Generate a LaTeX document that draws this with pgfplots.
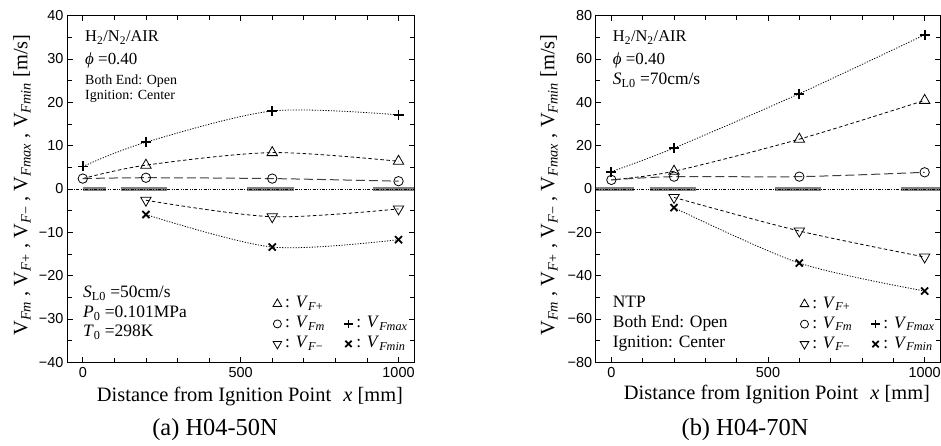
\documentclass[border=0pt]{standalone}
\usepackage{fontspec}
\setmainfont{Liberation Serif}
\newfontfamily\sansf{Liberation Sans}
\usepackage{pgfplots}
\pgfplotsset{compat=1.18}
\newcommand{\Vl}[2]{\hspace{2.5bp}: \textit{V}\textsubscript{\textit{#1}#2}}
\newcommand{\Vy}[2]{V\textsubscript{\textit{#1}#2}}
\pgfplotsset{
  myaxis/.style={
    scale only axis, xmin=-50, xmax=1050,
    xtick={0,500,1000}, xticklabels={0,500,1000},
    minor xtick={100,200,300,400,600,700,800,900},
    tick align=inside, major tick length=5.5bp, minor tick length=4.5bp,
    tick style={line width=0.7bp, black},
    axis line style={line width=0.9bp},
    ticklabel style={font=\sansf\fontsize{14.5}{14.5}\selectfont},
    xticklabel style={yshift=-2bp},
    legend columns=2,
    legend cell align=left,
    legend style={draw=none, fill=none, inner sep=0pt, anchor=north west,
      font=\fontsize{17.5}{17.5}\selectfont, row sep=2bp,
      nodes={inner sep=1bp, text height=12bp, text depth=4bp},
      /tikz/every even column/.append style={column sep=14bp}},
  },
  zl/.style={black, line width=0.6bp, dash pattern=on 3bp off 1.5bp on 0.8bp off 1.5bp on 0.8bp off 1.5bp},
  gs/.style={black!50, line width=3.5bp},
  fmax/.style={black, line width=0.8bp, dash pattern=on 1.2bp off 1.5bp, smooth, mark=+, mark size=5bp, mark options={solid, line width=1.8bp}},
  fmin/.style={black, line width=0.8bp, dash pattern=on 1.2bp off 1.5bp, smooth, mark=x, mark size=5bp, mark options={solid, line width=1.8bp}},
  fp/.style={black, line width=0.8bp, dash pattern=on 3.5bp off 2.5bp, smooth, mark=triangle, mark size=6bp, mark options={solid, fill=white, line width=0.8bp}},
  fn/.style={black, line width=0.8bp, dash pattern=on 3.5bp off 2.5bp, smooth, mark=triangle, mark size=6bp, mark options={solid, rotate=180, fill=white, line width=0.8bp}},
  fm/.style={black!75, line width=1bp, dash pattern=on 9bp off 4bp, smooth, mark=o, mark size=4.7bp, mark options={solid, black, fill=white, line width=0.8bp}},
  lgtri/.style={only marks, mark=triangle, mark size=5bp, mark options={fill=white, line width=0.8bp}},
  lgtrid/.style={only marks, mark=triangle, mark size=5bp, mark options={rotate=180, fill=white, line width=0.8bp}},
  lgcirc/.style={only marks, mark=o, mark size=4bp, mark options={line width=0.8bp}},
  lgplus/.style={only marks, mark=+, mark size=4.3bp, mark options={line width=1.8bp}},
  lgx/.style={only marks, mark=x, mark size=4.5bp, mark options={line width=1.8bp}},
}
\begin{document}
\begin{tikzpicture}[x=1bp,y=1bp]
\useasboundingbox (0,0) rectangle (941,446);
% ---------------- (a) ----------------
\begin{axis}[myaxis, at={(67bp,83.7bp)}, anchor=south west, width=347.3bp, height=346.6bp,
  ymin=-40, ymax=40, ytick={-40,-30,...,40},
  yticklabels={−40,−30,−20,−10,0,10,20,30,40}, minor y tick num=1,
  legend style={at={(axis cs:602,-24.4)}}]
\addplot[zl, forget plot] coordinates {(-50,0) (1050,0)};
\addplot[gs, forget plot] coordinates {(0,0) (73,0)};
\addplot[gs, forget plot] coordinates {(120,0) (267,0)};
\addplot[gs, forget plot] coordinates {(520,0) (668,0)};
\addplot[gs, forget plot] coordinates {(918,0) (1050,0)};
\addplot[zl, forget plot] coordinates {(-50,0) (1050,0)};
\addplot[fmax, forget plot] coordinates {(0,5.2) (200,10.8) (600,18.0) (1000,17.1)};
\addplot[fp, mark indices={2,3,4}, forget plot] coordinates {(0,2.4) (200,5.5) (600,8.4) (1000,6.4)};
\addplot[fm, forget plot] coordinates {(0,2.4) (200,2.6) (600,2.4) (1000,1.8)};
\addplot[fn, forget plot] coordinates {(200,-2.6) (600,-6.4) (1000,-4.6)};
\addplot[fmin, forget plot] coordinates {(200,-5.9) (600,-13.4) (1000,-11.7)};
\addlegendimage{lgtri}\addlegendentry{\Vl{F}{+}}
\addlegendimage{empty legend}\addlegendentry{}
\addlegendimage{lgcirc}\addlegendentry{\Vl{Fm}{}}
\addlegendimage{lgplus}\addlegendentry{\Vl{Fmax}{}}
\addlegendimage{lgtrid}\addlegendentry{\Vl{F}{−}}
\addlegendimage{lgx}\addlegendentry{\Vl{Fmin}{}}
\end{axis}
% ---------------- (b) ----------------
\begin{axis}[myaxis, at={(595.7bp,83.7bp)}, anchor=south west, width=344.6bp, height=346.6bp,
  ymin=-80, ymax=80, ytick={-80,-60,...,80},
  yticklabels={−80,−60,−40,−20,0,20,40,60,80}, minor y tick num=1,
  legend style={at={(axis cs:602,-48.9)}}]
\addplot[zl, forget plot] coordinates {(-50,0) (1050,0)};
\addplot[gs, forget plot] coordinates {(-50,0) (72,0)};
\addplot[gs, forget plot] coordinates {(122,0) (269,0)};
\addplot[gs, forget plot] coordinates {(523,0) (670,0)};
\addplot[gs, forget plot] coordinates {(925,0) (1050,0)};
\addplot[zl, forget plot] coordinates {(-50,0) (1050,0)};
\addplot[fmax, forget plot] coordinates {(0,8.0) (200,18.9) (600,44.0) (1000,71.2)};
\addplot[fp, mark indices={2,3,4}, forget plot] coordinates {(0,4.2) (200,8.2) (600,23.0) (1000,40.9)};
\addplot[fm, forget plot] coordinates {(0,4.2) (200,5.7) (600,5.7) (1000,7.7)};
\addplot[fn, forget plot] coordinates {(200,-3.9) (600,-19.4) (1000,-31.4)};
\addplot[fmin, forget plot] coordinates {(200,-8.6) (600,-34.2) (1000,-47.1)};
\addlegendimage{lgtri}\addlegendentry{\Vl{F}{+}}
\addlegendimage{empty legend}\addlegendentry{}
\addlegendimage{lgcirc}\addlegendentry{\Vl{Fm}{}}
\addlegendimage{lgplus}\addlegendentry{\Vl{Fmax}{}}
\addlegendimage{lgtrid}\addlegendentry{\Vl{F}{−}}
\addlegendimage{lgx}\addlegendentry{\Vl{Fmin}{}}
\end{axis}
% ---------------- annotations (a) ----------------
\begin{scope}[every node/.style={inner sep=0pt, anchor=base west}]
\node[font=\fontsize{16.5}{16.5}\selectfont] at (85,404.3) {H\textsubscript{2}/N\textsubscript{2}/AIR};
\node[font=\fontsize{17}{17}\selectfont] at (85,381) {\textit{ϕ} =0.40};
\node[font=\fontsize{14}{14}\selectfont] at (85,361) {Both End: Open};
\node[font=\fontsize{14}{14}\selectfont] at (85,346) {Ignition: Center};
\node[font=\fontsize{17.5}{17.5}\selectfont] at (83,148) {\textit{S}\textsubscript{L0} =50cm/s};
\node[font=\fontsize{17.5}{17.5}\selectfont] at (83,128) {\textit{P}\textsubscript{0} =0.101MPa};
\node[font=\fontsize{17.5}{17.5}\selectfont] at (83,109) {\textit{T}\textsubscript{0} =298K};
% ---------------- annotations (b) ----------------
\node[font=\fontsize{16.5}{16.5}\selectfont] at (612.7,404.3) {H\textsubscript{2}/N\textsubscript{2}/AIR};
\node[font=\fontsize{17}{17}\selectfont] at (612.7,381) {\textit{ϕ} =0.40};
\node[font=\fontsize{17.5}{17.5}\selectfont] at (612.7,361) {\textit{S}\textsubscript{L0} =70cm/s};
\node[font=\fontsize{17.5}{17.5}\selectfont] at (612.7,138) {NTP};
\node[font=\fontsize{17.5}{17.5}\selectfont] at (612.7,118) {Both End: Open};
\node[font=\fontsize{17.5}{17.5}\selectfont] at (612.7,98) {Ignition: Center};
\end{scope}
% ---------------- axis labels ----------------
\node[font=\fontsize{20.5}{20.5}\selectfont, anchor=base, inner sep=0pt] at (250,44.5) {Distance from Ignition Point\hspace{0.6em}\textit{x} [mm]};
\node[font=\fontsize{20.5}{20.5}\selectfont, anchor=base, inner sep=0pt] at (777,46) {Distance from Ignition Point\hspace{0.6em}\textit{x} [mm]};
\node[font=\fontsize{20.5}{20.5}\selectfont, rotate=90, inner sep=0pt] at (22,261) {\Vy{Fm}{} , \Vy{F}{+} , \Vy{F}{−} , \Vy{Fmax}{} , \Vy{Fmin}{} [m/s]};
\node[font=\fontsize{20.5}{20.5}\selectfont, rotate=90, inner sep=0pt] at (549,261) {\Vy{Fm}{} , \Vy{F}{+} , \Vy{F}{−} , \Vy{Fmax}{} , \Vy{Fmin}{} [m/s]};
% ---------------- captions ----------------
\node[font=\fontsize{24.5}{24.5}\selectfont, anchor=base, inner sep=0pt] at (215,10) {(a) H04-50N};
\node[font=\fontsize{24.5}{24.5}\selectfont, anchor=base, inner sep=0pt] at (745,10) {(b) H04-70N};
\end{tikzpicture}
\end{document}
